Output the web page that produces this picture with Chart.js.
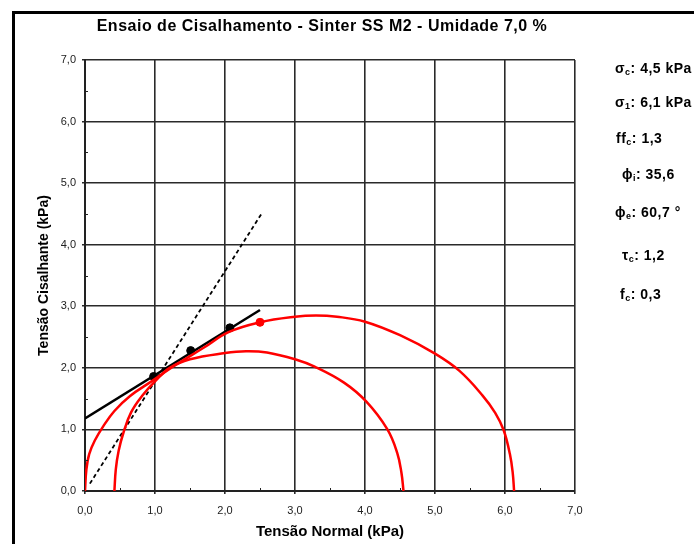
<!DOCTYPE html>
<html>
<head>
<meta charset="utf-8">
<script src="https://cdn.jsdelivr.net/npm/chart.js@4/dist/chart.umd.min.js"></script>
<style>
  html, body { margin: 0; padding: 0; background: #fff; }
  #wrap { width: 694px; height: 544px; }
</style>
</head>
<body>
<div id="wrap"><canvas id="mohrChart" width="694" height="544"></canvas></div>
<script>
// Mohr circles, points
const smallCircleX = [0.42, 0.44, 0.48, 0.55, 0.66, 0.82, 1.00, 1.21, 1.50, 2.00, 2.30, 2.60, 3.00, 3.28, 3.70, 4.02, 4.32, 4.46, 4.52, 4.55];
const smallCircleY = [0.00, 0.35, 0.65, 0.95, 1.28, 1.55, 1.78, 2.00, 2.14, 2.24, 2.27, 2.25, 2.14, 2.02, 1.76, 1.45, 1.00, 0.62, 0.30, 0.00];

const largeCircleX = [0.00, 0.02, 0.06, 0.14, 0.26, 0.42, 0.64, 0.95, 1.30, 1.70, 2.05, 2.50, 3.00, 3.30, 3.60, 4.00, 4.50, 5.00, 5.35, 5.68, 5.86, 5.98, 6.07, 6.11, 6.13];
const largeCircleY = [0.00, 0.35, 0.60, 0.82, 1.05, 1.30, 1.54, 1.78, 2.05, 2.33, 2.58, 2.74, 2.83, 2.85, 2.83, 2.75, 2.53, 2.23, 1.95, 1.55, 1.27, 0.99, 0.60, 0.30, 0.00];

// yield locus (solid) and effective locus (dashed)
const yieldLocusX = [0.00, 2.50];
const yieldLocusY = [1.18, 2.94];
const effectiveX = [0.07, 2.52];
const effectiveY = [0.12, 4.50];

// shear points and preshear point
const shearPointsX = [0.98, 1.51, 2.07];
const shearPointsY = [1.86, 2.28, 2.65];
const preshearX = [2.50];
const preshearY = [2.74];

// parameters listed on the right
const paramSymbols = ['σ', 'σ', 'ff', 'ϕ', 'ϕ', 'τ', 'f'];
const paramSubs = ['c', '1', 'c', 'i', 'e', 'c', 'c'];
const paramValues = [': 4,5 kPa', ': 6,1 kPa', ': 1,3', ': 35,6', ': 60,7 °', ': 1,2', ': 0,3'];
const paramPosX = [615, 615, 616, 622, 615, 622, 620];
const paramPosY = [69, 103, 139, 175, 213, 256, 295];

const xTicks = [0, 1, 2, 3, 4, 5, 6, 7];
const yTicks = [0, 1, 2, 3, 4, 5, 6, 7];

function pts(xs, ys) {
  return xs.map((x, i) => ({ x: x, y: ys[i] }));
}

const FONT = "'Liberation Sans', Arial, sans-serif";

const decorPlugin = {
  id: 'decor',
  beforeDraw(chart) {
    const ctx = chart.ctx;
    ctx.save();
    ctx.fillStyle = '#fff';
    ctx.fillRect(0, 0, chart.width, chart.height);
    ctx.restore();
  },
  afterDatasetsDraw(chart) {
    const ctx = chart.ctx;
    const xs = chart.scales.x, ys = chart.scales.y;
    ctx.save();
    // minor ticks at the half units
    ctx.strokeStyle = '#222';
    ctx.lineWidth = 1;
    for (let v = 0.5; v < 7; v += 1) {
      const px = Math.round(xs.getPixelForValue(v)) + 0.5;
      ctx.beginPath();
      ctx.moveTo(px, ys.bottom);
      ctx.lineTo(px, ys.bottom - 3);
      ctx.stroke();
      const py = Math.round(ys.getPixelForValue(v)) + 0.5;
      ctx.beginPath();
      ctx.moveTo(xs.left, py);
      ctx.lineTo(xs.left + 3, py);
      ctx.stroke();
    }
    ctx.restore();
  },
  afterDraw(chart) {
    const ctx = chart.ctx;
    ctx.save();
    // outer frame
    ctx.strokeStyle = '#000';
    ctx.lineWidth = 3;
    ctx.strokeRect(13.5, 12.5, 800, 700);

    // title
    ctx.fillStyle = '#000';
    ctx.letterSpacing = '0.5px';
    ctx.font = 'bold 16px ' + FONT;
    ctx.textAlign = 'center';
    ctx.textBaseline = 'middle';
    ctx.fillText('Ensaio de Cisalhamento - Sinter SS M2 - Umidade 7,0 %', 322, 27);

    // parameter list
    ctx.textAlign = 'left';
    paramSymbols.forEach((sym, i) => {
      let x = paramPosX[i];
      const y = paramPosY[i];
      ctx.font = 'bold 14px ' + FONT;
      ctx.fillText(sym, x, y);
      x += ctx.measureText(sym).width;
      ctx.font = 'bold 9px ' + FONT;
      ctx.fillText(paramSubs[i], x, y + 4);
      x += ctx.measureText(paramSubs[i]).width;
      ctx.font = 'bold 14px ' + FONT;
      ctx.fillText(paramValues[i], x, y);
    });
    ctx.restore();
  }
};

const ctx = document.getElementById('mohrChart').getContext('2d');
new Chart(ctx, {
  type: 'scatter',
  data: {
    datasets: [
      {
        label: 'Círculo menor',
        data: pts(smallCircleX, smallCircleY),
        showLine: true,
        borderColor: '#ff0000',
        borderWidth: 2.5,
        pointRadius: 0,
        tension: 0.4
      },
      {
        label: 'Círculo maior',
        data: pts(largeCircleX, largeCircleY),
        showLine: true,
        borderColor: '#ff0000',
        borderWidth: 2.5,
        pointRadius: 0,
        tension: 0.4
      },
      {
        label: 'Lugar geométrico',
        data: pts(yieldLocusX, yieldLocusY),
        showLine: true,
        borderColor: '#000',
        borderWidth: 2.5,
        pointRadius: 0
      },
      {
        label: 'Linha efetiva',
        data: pts(effectiveX, effectiveY),
        showLine: true,
        borderColor: '#000',
        borderWidth: 1.8,
        borderDash: [4, 3],
        pointRadius: 0
      },
      {
        label: 'Cisalhamento',
        data: pts(shearPointsX, shearPointsY),
        showLine: false,
        backgroundColor: '#000',
        borderColor: '#000',
        pointRadius: 4
      },
      {
        label: 'Pré-cisalhamento',
        data: pts(preshearX, preshearY),
        showLine: false,
        backgroundColor: '#ff0000',
        borderColor: '#ff0000',
        pointRadius: 4
      }
    ]
  },
  options: {
    responsive: false,
    animation: false,
    layout: { padding: { left: 20, right: 119, top: 60, bottom: 0 } },
    plugins: {
      legend: { display: false },
      tooltip: { enabled: false }
    },
    scales: {
      x: {
        type: 'linear',
        min: 0,
        max: 7,
        afterFit(scale) { scale.height = 53; },
        afterBuildTicks(scale) { scale.ticks = xTicks.map(v => ({ value: v })); },
        ticks: {
          padding: 10,
          color: '#222',
          font: { family: FONT, size: 11 },
          callback: v => v.toFixed(1).replace('.', ',')
        },
        grid: { color: '#2a2a2a', lineWidth: 1.6, tickLength: 3 },
        border: { color: '#222', width: 2 },
        title: {
          display: true,
          text: 'Tensão Normal (kPa)',
          color: '#000',
          font: { family: FONT, size: 15, weight: 'bold' },
          padding: { top: 0, bottom: 3 }
        }
      },
      y: {
        type: 'linear',
        min: 0,
        max: 7,
        afterFit(scale) { scale.width = 65; },
        afterBuildTicks(scale) { scale.ticks = yTicks.map(v => ({ value: v })); },
        ticks: {
          padding: 6,
          color: '#222',
          font: { family: FONT, size: 11 },
          callback: v => v.toFixed(1).replace('.', ',')
        },
        grid: { color: '#2a2a2a', lineWidth: 1.6, tickLength: 3 },
        border: { color: '#222', width: 2 },
        title: {
          display: true,
          text: 'Tensão Cisalhante (kPa)',
          color: '#000',
          font: { family: FONT, size: 14, weight: 'bold' },
          padding: { top: 16, bottom: 0 }
        }
      }
    }
  },
  plugins: [decorPlugin]
});
</script>
</body>
</html>
